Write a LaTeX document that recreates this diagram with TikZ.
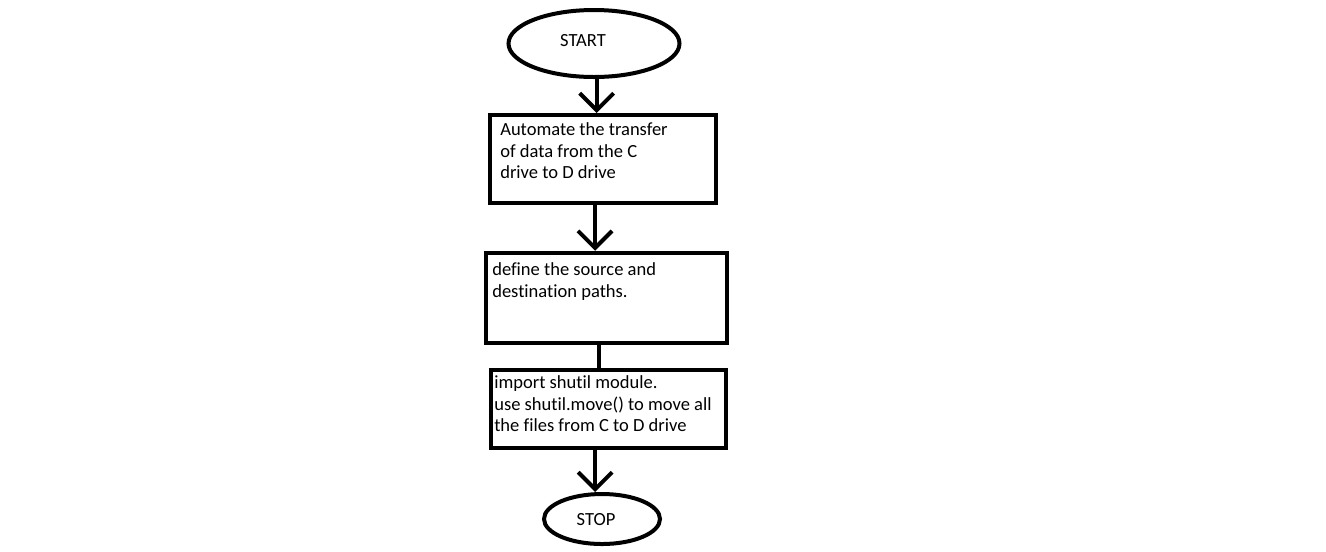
\documentclass[tikz,border=0pt]{standalone}
\usepackage{fontspec}
\setmainfont{Carlito}[Ligatures=CommonOff]
\usepackage{tikz}
\usetikzlibrary{arrows.meta,shapes.geometric}

\tikzset{
  x=0.75pt, y=-0.75pt,
  term/.style={draw, ellipse, line width=3pt, inner sep=0pt},
  stepbox/.style={draw, rectangle, line width=3pt, inner sep=0pt},
  txt/.style={anchor=north west, inner sep=0pt, align=left,
    font=\fontsize{13.9}{16.4}\selectfont},
  lbl/.style={inner sep=0pt, font=\fontsize{13.9}{16.4}\selectfont},
  flow/.style={line width=3pt, -{Straight Barb[length=12.75pt,width=25.5pt,line width=3pt]}},
}

\begin{document}
\begin{tikzpicture}
                \useasboundingbox (0,0) rectangle (1326,551);
                % terminals and process boxes
                \node[term, minimum width=128.25pt, minimum height=50.25pt] (start) at (594,43.5) {};
                \node[lbl] (starttxt) at (583,41) {START};
                \node[stepbox, minimum width=169.5pt, minimum height=66pt] (b1) at (603,159) {};
                \node[txt] (t1) at ([shift={(12,9)}]b1.north west) {Automate the transfer\\of data from the C\\drive to D drive};
                \node[stepbox, minimum width=180.75pt, minimum height=67.5pt] (b2) at (606.5,297.75) {};
                \node[txt] (t2) at ([shift={(8,12)}]b2.north west) {define the source and\\destination paths.};
                \node[stepbox, minimum width=176.25pt, minimum height=58.5pt] (b3) at (608.5,409) {};
                \node[txt] (t3) at ([shift={(5,7)}]b3.north west) {import shutil module.\\use shutil.move() to move all\\the files from C to D drive};
                \node[term, minimum width=87pt, minimum height=37.5pt] (stop) at (602,519) {};
                \node[lbl] (stoptxt) at (596,520) {STOP};
                % connectors
                \draw[flow] ([xshift=2]start.south) -- ([xshift=2]start.south |- b1.north);
                \draw[flow] ([xshift=-6]b1.south) -- ([xshift=-6]b1.south |- b2.north);
                \draw[line width=3pt] ([xshift=-6]b2.south) -- ([xshift=-6]b2.south |- b3.north);
                \draw[flow] ([xshift=-10]b3.south) -- ([xshift=-10]b3.south |- stop.north);
\end{tikzpicture}
\end{document}
